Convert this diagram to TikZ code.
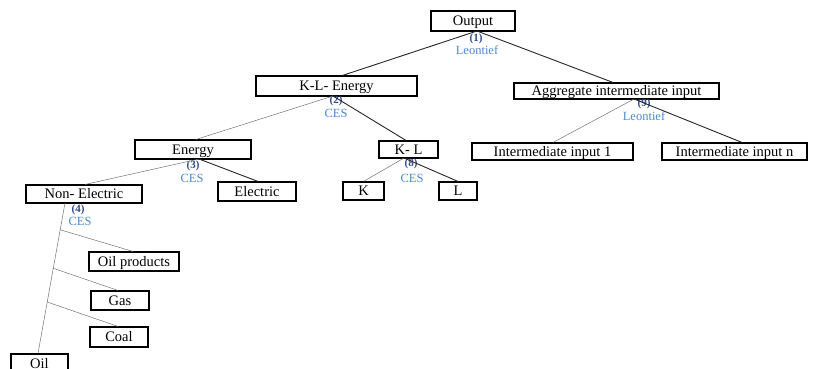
\documentclass[tikz,border=0pt]{standalone}
\usepackage{fontspec}
\setmainfont{Liberation Serif}
\usetikzlibrary{calc}
\definecolor{numblue}{HTML}{2E4B8C}
\definecolor{wordblue}{HTML}{4A88CC}
\begin{document}
\begin{tikzpicture}[x=1pt,y=-1pt,
  box/.style={draw=black,line width=1.1pt,inner sep=0pt,font=\fontsize{14.5}{15}\selectfont,
    text height=10pt,text depth=1pt,minimum width=#1},
  box/.default=60pt,
  num/.style={text=numblue,font=\bfseries\fontsize{11}{12}\selectfont,inner sep=0pt},
  fn/.style={text=wordblue,font=\fontsize{12.5}{13}\selectfont,inner sep=0pt},
  darkl/.style={draw=black!85,line width=0.9pt},
  lightl/.style={draw=black!55,line width=0.5pt}]
\useasboundingbox (0,0) rectangle (813,369);
\clip (0,0) rectangle (813,369);
% boxes
\node[box=84pt,minimum height=20pt] (out) at (473,21) {Output};
\node[box=161pt,minimum height=20pt] (kle) at (336.5,86) {K-L- Energy};
\node[box=205pt,minimum height=16pt] (agg) at (616.5,91) {Aggregate intermediate input};
\node[box=116pt,minimum height=19pt] (en) at (193,149.5) {Energy};
\node[box=59pt,minimum height=17pt] (kl) at (408.5,149.5) {K- L};
\node[box=161pt,minimum height=17pt] (i1) at (552.5,151.5) {Intermediate input 1};
\node[box=145pt,minimum height=17pt] (in) at (734.5,151.5) {Intermediate input n};
\node[box=116pt,minimum height=18pt] (ne) at (84,194) {Non- Electric};
\node[box=78pt,minimum height=19pt] (el) at (257,191.5) {Electric};
\node[box=41pt,minimum height=18pt] (k) at (363.5,191) {K};
\node[box=38pt,minimum height=18pt] (l) at (458,191) {L};
\node[box=90pt,minimum height=19pt] (op) at (134,261.5) {Oil products};
\node[box=58pt,minimum height=19pt] (gas) at (120,300.5) {Gas};
\node[box=58pt,minimum height=20pt] (coal) at (119,337) {Coal};
\node[box=57pt,minimum height=20pt] (oil) at (39.5,364) {Oil};
% labels
\node[num] (n1) at (476,38.5) {(1)};
\node[fn] (f1) at (477,50.5) {Leontief};
\node[num] (n2) at (336,100.5) {(2)};
\node[fn] (f2) at (336,113.5) {CES};
\node[num] (n3) at (193,166) {(3)};
\node[fn] (f3) at (192,178.5) {CES};
\node[num] (n4) at (78,210) {(4)};
\node[fn] (f4) at (80,221.5) {CES};
\node[num] (n8) at (411,163.5) {(8)};
\node[fn] (f8) at (412,178.5) {CES};
\node[num] (n9) at (644,104) {(9)};
\node[fn] (f9) at (644,116) {Leontief};
% pivots
\coordinate (p1) at (477,31);
\coordinate (p2) at (333,96);
\coordinate (p3) at (199,159);
\coordinate (p4) at (65,203);
\coordinate (p8) at (404,158);
\coordinate (p9) at (634,99);
% connectors
\draw[darkl] (p1) -- ([xshift=6pt]kle.north);
\draw[darkl] (p1) -- ([xshift=-3.5pt]agg.north);
\draw[lightl] (p2) -- ([xshift=3pt]en.north);
\draw[darkl] (p2) -- ([xshift=-2.5pt]kl.north);
\draw[lightl] (p3) -- ([xshift=1pt]ne.north);
\draw[darkl] (p3) -- ([xshift=1pt]el.north);
\draw[lightl] (p8) -- (k.north);
\draw[darkl] (p8) -- (l.north);
\draw[lightl] (p9) -- ([xshift=0.5pt]i1.north);
\draw[darkl] (p9) -- ([xshift=7.5pt]in.north);
\draw[lightl] (p4) -- ([xshift=-1.5pt]oil.north);
\draw[lightl] ($(p4)!0.178!([xshift=-1.5pt]oil.north)$) -- ([xshift=-1pt]op.north);
\draw[lightl] ($(p4)!0.434!([xshift=-1.5pt]oil.north)$) -- ([xshift=-2pt]gas.north);
\draw[lightl] ($(p4)!0.658!([xshift=-1.5pt]oil.north)$) -- ([xshift=-1pt]coal.north);
\end{tikzpicture}
\end{document}
